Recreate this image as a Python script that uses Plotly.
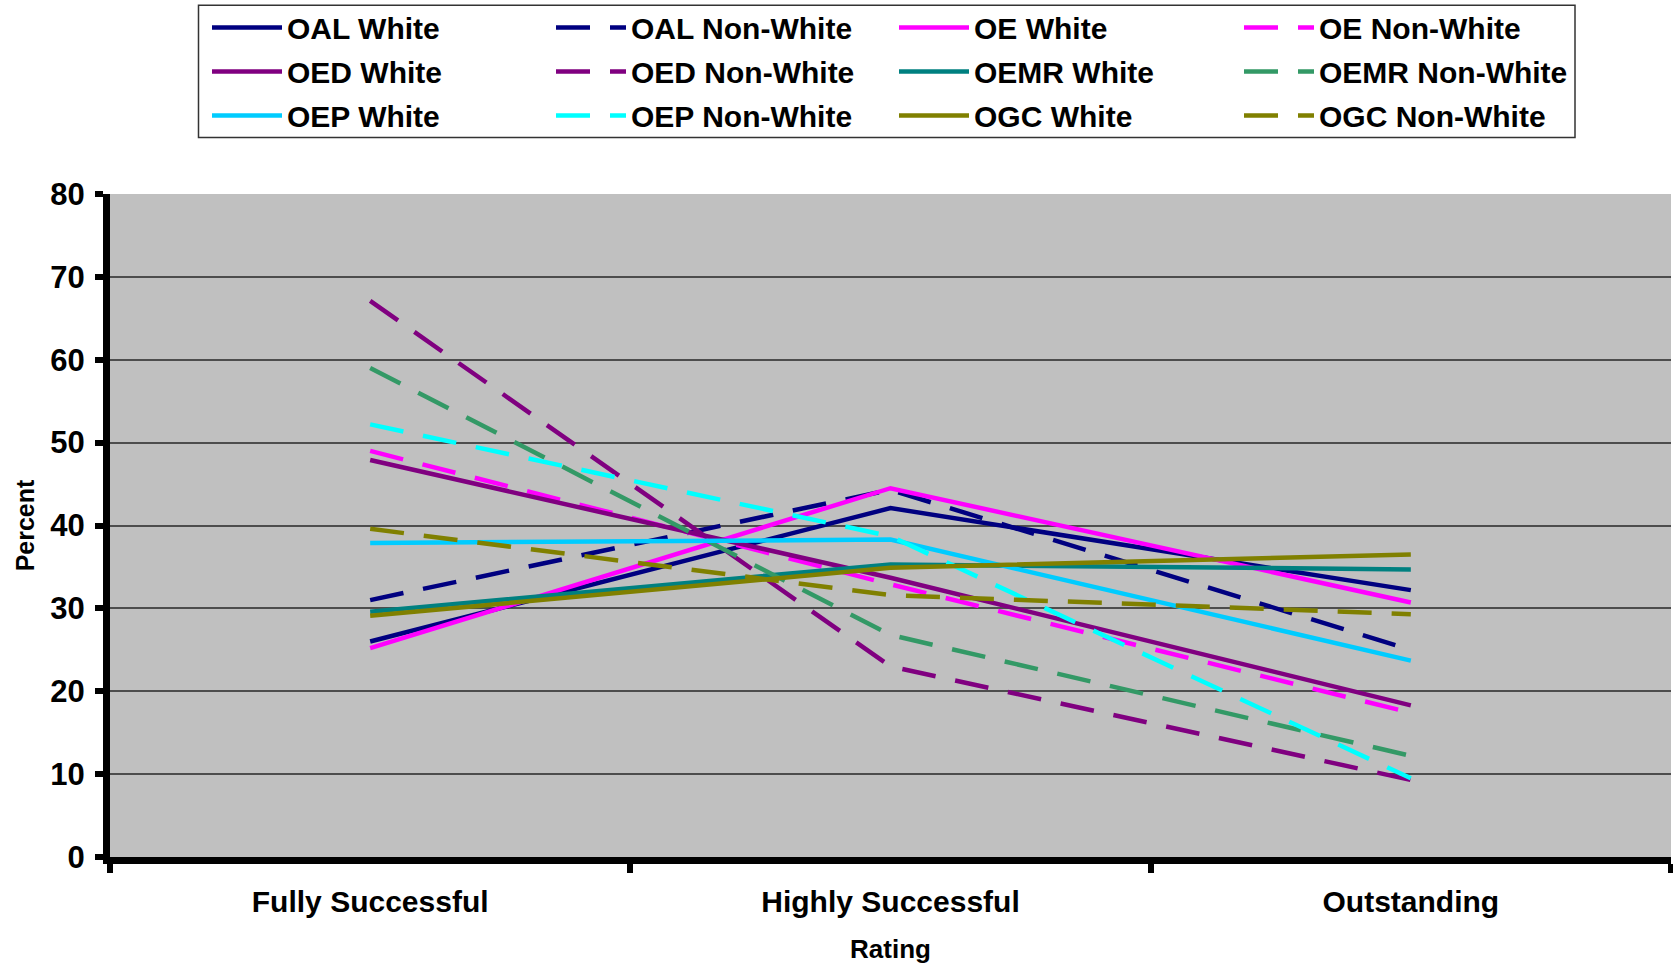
import plotly.graph_objects as go

categories = ["Fully Successful", "Highly Successful", "Outstanding"]

series_names = [
    "OAL White", "OAL Non-White", "OE White", "OE Non-White",
    "OED White", "OED Non-White", "OEMR White", "OEMR Non-White",
    "OEP White", "OEP Non-White", "OGC White", "OGC Non-White",
]

oal_white = [26.0, 42.1, 32.2]
oal_nonwhite = [31.0, 44.3, 25.0]
oe_white = [25.2, 44.5, 30.7]
oe_nonwhite = [49.0, 32.9, 17.4]
oed_white = [47.9, 33.7, 18.3]
oed_nonwhite = [67.1, 23.0, 9.3]
oemr_white = [29.6, 35.3, 34.7]
oemr_nonwhite = [59.0, 26.8, 12.2]
oep_white = [37.9, 38.3, 23.7]
oep_nonwhite = [52.2, 38.7, 9.5]
ogc_white = [29.1, 34.9, 36.5]
ogc_nonwhite = [39.6, 31.6, 29.3]

series_values = [
    oal_white, oal_nonwhite, oe_white, oe_nonwhite,
    oed_white, oed_nonwhite, oemr_white, oemr_nonwhite,
    oep_white, oep_nonwhite, ogc_white, ogc_nonwhite,
]

colors = [
    "#000080", "#000080", "#FF00FF", "#FF00FF",
    "#800080", "#800080", "#008080", "#339966",
    "#00CCFF", "#00FFFF", "#808000", "#808000",
]

y_ticks = [0, 10, 20, 30, 40, 50, 60, 70, 80]

FONT = "Liberation Sans, Arial, sans-serif"

# plot area geometry (px)
W, H = 1673, 967
ML, MR, MT, MB = 110, 2, 194, 110
PW, PH = W - ML - MR, H - MT - MB


def px_x(x):
    return (x - ML) / PW


def px_y(y):
    return (H - MB - y) / PH


legend_ids = ["legend", "legend2", "legend3", "legend4"]
legend_text_x = [288, 632, 975, 1320]

fig = go.Figure()
for i, (name, vals, col) in enumerate(zip(series_names, series_values, colors)):
    dashed = "Non-White" in name
    fig.add_trace(go.Scatter(
        x=categories, y=vals, name=name, mode="lines",
        legend=legend_ids[i % 4], legendgroup=name,
        line=dict(color=col, width=4.5, dash="34px,20px" if dashed else "solid"),
    ))

legend_common = dict(
    orientation="v",
    xanchor="left", yanchor="top",
    y=px_y(1.4),
    bgcolor="rgba(0,0,0,0)",
    borderwidth=0,
    font=dict(family=FONT, size=30, color="black", weight="bold"),
    itemwidth=70,
    tracegroupgap=2,
)

layout_legends = {}
for lid, tx in zip(legend_ids, legend_text_x):
    layout_legends[lid] = dict(legend_common, x=px_x(tx - 81))

fig.update_layout(
    width=W, height=H,
    margin=dict(l=ML, r=MR, t=MT, b=MB, autoexpand=False),
    paper_bgcolor="white",
    plot_bgcolor="#C0C0C0",
    font=dict(family=FONT, color="black", weight="bold"),
    showlegend=True,
    xaxis=dict(
        type="category",
        range=[-0.5, 2.5],
        showgrid=False,
        showline=True, linecolor="black", linewidth=7,
        ticks="outside", tickson="boundaries", ticklen=9, tickwidth=6, tickcolor="black",
        tickfont=dict(family=FONT, size=30, color="black", weight="bold"),
        ticklabelstandoff=12,
        title=dict(text="Rating", font=dict(family=FONT, size=26, color="black", weight="bold"), standoff=25),
        zeroline=False,
        automargin=False,
    ),
    yaxis=dict(
        range=[0, 80],
        tickvals=y_ticks,
        showgrid=True, gridcolor="#4d4d4d", gridwidth=1.5,
        showline=True, linecolor="black", linewidth=7,
        ticks="outside", ticklen=8, tickwidth=6, tickcolor="black",
        tickfont=dict(family=FONT, size=31, color="black", weight="bold"),
        ticklabelstandoff=4,
        title=dict(text="Percent", font=dict(family=FONT, size=25, color="black", weight="bold"), standoff=11),
        zeroline=False,
        automargin=False,
    ),
    shapes=[dict(
        type="rect", xref="paper", yref="paper",
        x0=px_x(198.5), x1=px_x(1575), y0=px_y(137.6), y1=px_y(5.3),
        line=dict(color="#333333", width=1.5), fillcolor="white", layer="below",
    )],
    **layout_legends,
)

fig.write_html("out.html", config={"displayModeBar": False},
               post_script="document.body.style.margin='0';")
